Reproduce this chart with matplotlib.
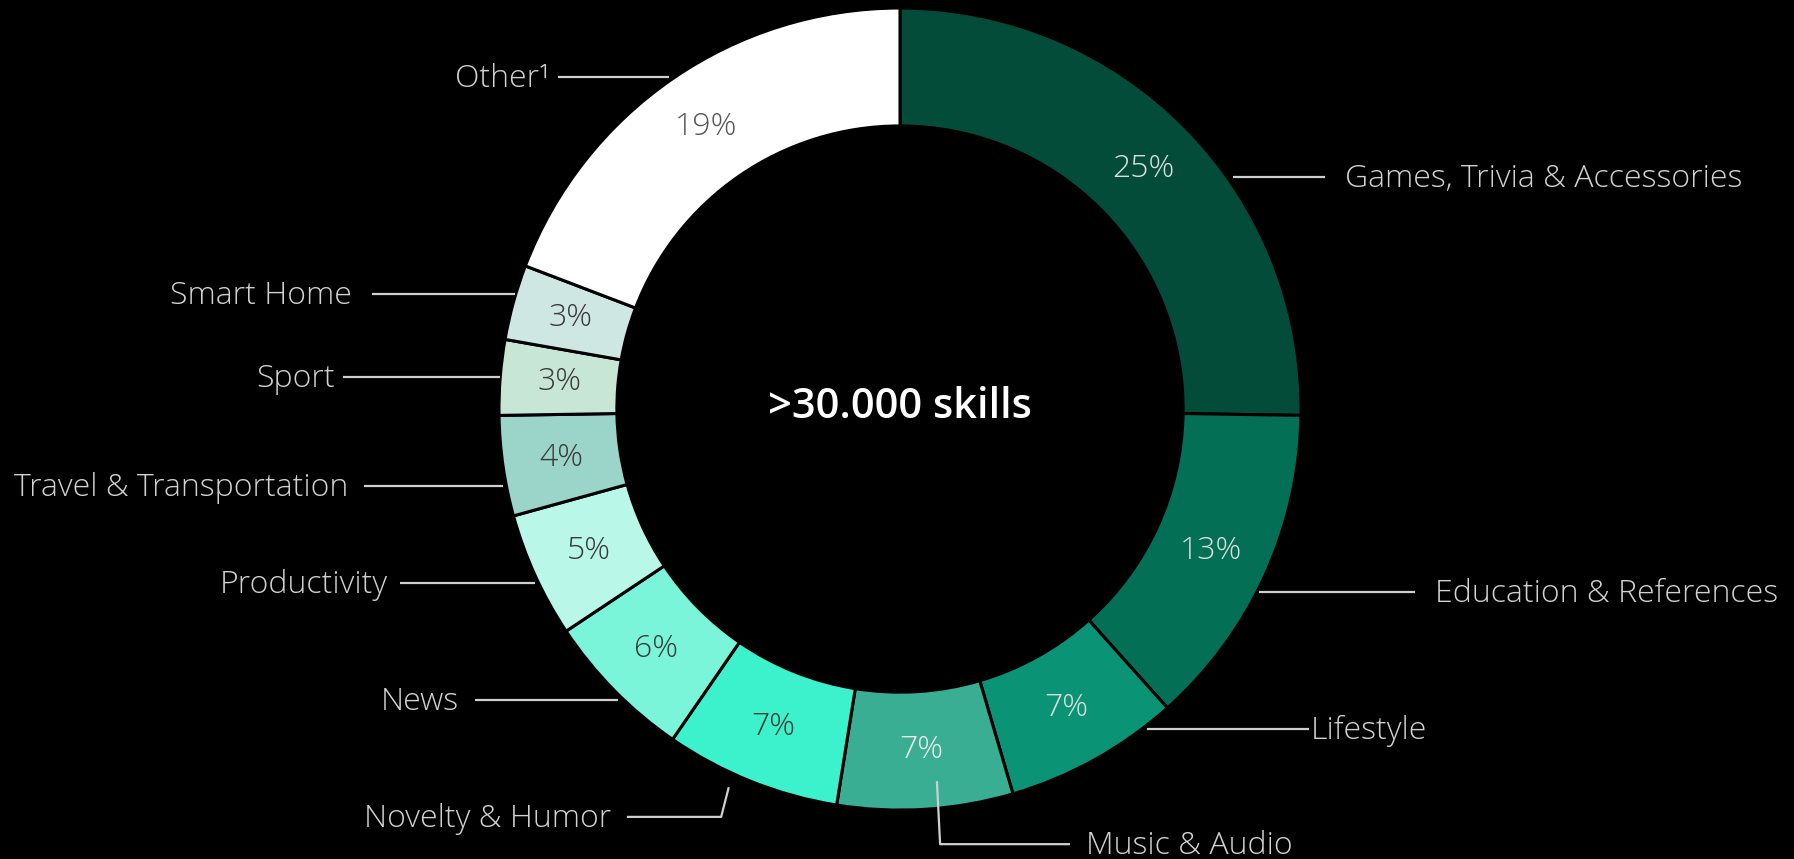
import numpy as np
import matplotlib.pyplot as plt

categories = ['Games, Trivia & Accessories', 'Education & References', 'Lifestyle',
              'Music & Audio', 'Novelty & Humor', 'News', 'Productivity',
              'Travel & Transportation', 'Sport', 'Smart Home', 'Other¹']
shares = [25, 13, 7, 7, 7, 6, 5, 4, 3, 3, 19]
center_text = '>30.000 skills'

colors = ['#034c3a', '#037055', '#0a9475', '#39ae93', '#3cf2cc', '#7bf5d9',
          '#b9f7e9', '#9bd4c8', '#c7e6d6', '#cfe7e2', '#ffffff']
pct_colors = ['#dedede', '#dedede', '#dedede', '#eeeeee', '#3a3a3a', '#3a3a3a',
              '#3a3a3a', '#3a3a3a', '#3a3a3a', '#3a3a3a', '#555555']

# leader lines in axes units (ring radius = 1), last point is where the label sits
leaders = [
    [(0.83, 0.579), (1.06, 0.579)],
    [(0.894, -0.455), (1.285, -0.455)],
    [(0.617, -0.797), (1.02, -0.797)],
    [(0.092, -0.928), (0.10, -1.085), (0.424, -1.085)],
    [(-0.427, -0.943), (-0.446, -1.017), (-0.681, -1.017)],
    [(-0.703, -0.726), (-1.06, -0.726)],
    [(-0.91, -0.435), (-1.246, -0.435)],
    [(-0.99, -0.193), (-1.337, -0.193)],
    [(-0.998, 0.08), (-1.39, 0.08)],
    [(-0.96, 0.287), (-1.317, 0.287)],
    [(-0.576, 0.828), (-0.853, 0.828)],
]
label_gap = [0.05, 0.05, 0.005, 0.04, 0.04, 0.04, 0.03, 0.04, 0.02, 0.05, 0.02]

plt.rcParams['font.family'] = ['Open Sans', 'DejaVu Sans']

fig = plt.figure(figsize=(17.94, 8.59), dpi=100, facecolor='black')
ax = fig.add_axes([0, 0, 1, 1])
ax.set_facecolor('black')

wedges, _ = ax.pie(shares, colors=colors, startangle=90, counterclock=False,
                   radius=1.0, normalize=True,
                   wedgeprops=dict(width=0.294, edgecolor='black', linewidth=2.2))

for w, s, c in zip(wedges, shares, pct_colors):
    mid = np.deg2rad((w.theta1 + w.theta2) / 2)
    r = 0.853
    ax.text(r * np.cos(mid), r * np.sin(mid), f'{s}%', ha='center', va='center',
            fontsize=23, color=c, fontweight='light')

for name, pts, gap in zip(categories, leaders, label_gap):
    xs = [p[0] for p in pts]
    ys = [p[1] for p in pts]
    ax.plot(xs, ys, color='#cfcfcf', lw=1.6, solid_capstyle='butt')
    x_end, y_end = pts[-1]
    if x_end > 0:
        ax.text(x_end + gap, y_end - 0.005, name, ha='left', va='center',
                fontsize=23, color='#d2d2d2', fontweight='light')
    else:
        ax.text(x_end - gap, y_end - 0.005, name, ha='right', va='center',
                fontsize=23, color='#d2d2d2', fontweight='light')

ax.text(0, 0.005, center_text, ha='center', va='center', fontsize=30,
        color='white', fontweight='semibold')

ax.set_xlim(-2.244, 2.229)
ax.set_ylim(-1.122, 1.020)
ax.set_aspect('equal')
ax.axis('off')

plt.savefig('out.png', dpi=100, facecolor='black')
